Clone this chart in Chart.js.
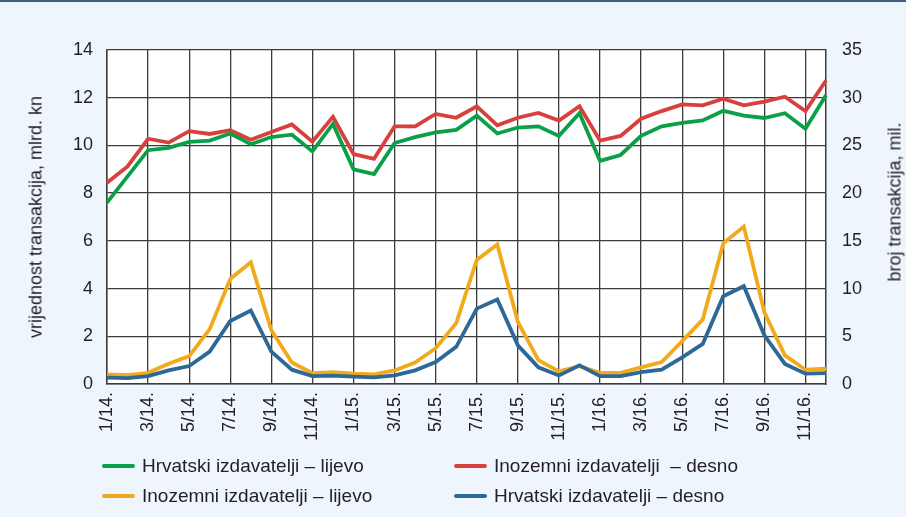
<!DOCTYPE html>
<html>
<head>
<meta charset="utf-8">
<script src="https://cdn.jsdelivr.net/npm/chart.js@4.4.0/dist/chart.umd.min.js"></script>
<style>
  html, body { margin: 0; padding: 0; }
  body { width: 906px; height: 517px; background: #eef5fc; position: relative; overflow: hidden;
         font-family: 'Liberation Sans Narrow', 'Liberation Sans', sans-serif; color: #231f20; }
  #topline { position: absolute; left: 0; top: 0; width: 906px; height: 2px; background: #3f5f86; }
  #wrap { position: absolute; left: 0; top: 0; width: 906px; height: 517px; }
  .axis-title { position: absolute; white-space: nowrap; font-size: 18px; transform: translate(-50%, -50%) rotate(-90deg); }
  #legend { position: absolute; left: 102px; top: 454px; display: grid; grid-template-columns: 352px 340px; row-gap: 6px; }
  .item { display: flex; align-items: center; font-size: 19px; height: 24px; }
  .swatch { width: 33px; height: 4px; border-radius: 2px; margin-right: 7px; }
</style>
</head>
<body>
<div id="topline"></div>
<div id="wrap"><canvas id="chart" width="906" height="517"></canvas></div>
<div class="axis-title" style="left:36px; top:217px;">vrijednost transakcija, mlrd. kn</div>
<div class="axis-title" style="left:895px; top:202px;">broj transakcija, mil.</div>
<div id="legend"></div>
<script>
// months 1/14. .. 12/16.
const months = [];
for (let y = 14; y <= 16; y++) {
    for (let m = 1; m <= 12; m++) months.push(m + '/' + y + '.');
}

// left axis, mlrd. kn
const hrLijevo = [7.6, 8.7, 9.8, 9.9, 10.15, 10.2, 10.5, 10.05, 10.35, 10.45, 9.75, 10.9,
                  9.0, 8.8, 10.1, 10.35, 10.55, 10.65, 11.25, 10.5, 10.75, 10.8, 10.4, 11.35,
                  9.35, 9.6, 10.4, 10.8, 10.95, 11.05, 11.45, 11.25, 11.15, 11.35, 10.7, 12.1];
const inoLijevo = [0.4, 0.37, 0.47, 0.85, 1.17, 2.3, 4.4, 5.1, 2.25, 0.9, 0.45, 0.5,
                   0.43, 0.4, 0.57, 0.9, 1.5, 2.55, 5.2, 5.85, 2.6, 1.0, 0.53, 0.75,
                   0.47, 0.47, 0.7, 0.92, 1.8, 2.7, 5.9, 6.6, 3.0, 1.2, 0.6, 0.64];
// right axis, mil.
const inoDesno = [21.1, 22.8, 25.7, 25.3, 26.5, 26.2, 26.6, 25.6, 26.4, 27.2, 25.4, 28.0,
                  24.1, 23.6, 27.0, 27.0, 28.3, 27.9, 29.1, 27.1, 27.9, 28.4, 27.6, 29.1,
                  25.5, 26.0, 27.8, 28.6, 29.3, 29.2, 29.9, 29.2, 29.6, 30.1, 28.6, 31.8];
const hrDesno = [0.66, 0.62, 0.83, 1.43, 1.88, 3.4, 6.6, 7.7, 3.4, 1.5, 0.83, 0.87,
                 0.77, 0.7, 0.9, 1.43, 2.3, 3.9, 7.9, 8.85, 4.05, 1.75, 0.9, 1.95,
                 0.83, 0.83, 1.25, 1.5, 2.8, 4.2, 9.2, 10.25, 5.1, 2.1, 1.08, 1.14];

const GRID = '#3c3c3c';

Chart.defaults.font.family = "'Liberation Sans Narrow', 'Liberation Sans', sans-serif";
Chart.defaults.color = '#231f20';

const whiteArea = {
    id: 'whiteArea',
    beforeDraw(chart) {
        const a = chart.chartArea;
        const c = chart.ctx;
        c.save();
        c.fillStyle = '#ffffff';
        c.fillRect(a.left, a.top, a.right - a.left, a.bottom - a.top);
        c.restore();
    }
};

function line(label, data, color, axis, order) {
    return {
        label: label, data: data, yAxisID: axis,
        borderColor: color, backgroundColor: color,
        borderWidth: 3.8, pointRadius: 0, tension: 0, order: order
    };
}

const datasets = [
    line('Hrvatski izdavatelji – lijevo', hrLijevo, '#0b9f48', 'y', 1),
    line('Inozemni izdavatelji  – desno', inoDesno, '#d8413b', 'y1', 1),
    line('Inozemni izdavatelji – lijevo', inoLijevo, '#f2aa1c', 'y', 1),
    line('Hrvatski izdavatelji – desno', hrDesno, '#2e6896', 'y1', 0)
];

new Chart(document.getElementById('chart'), {
    type: 'line',
    data: { labels: months, datasets: datasets },
    options: {
        responsive: false,
        animation: false,
        layout: { padding: { top: 50, left: 0, right: 0, bottom: 0 } },
        plugins: { legend: { display: false }, tooltip: { enabled: false } },
        scales: {
            x: {
                offset: false,
                afterFit(s) { s.height = 133; },
                grid: { color: GRID, lineWidth: 1.3, drawTicks: false },
                border: { color: GRID, width: 1.5 },
                ticks: {
                    autoSkip: false, maxRotation: 90, minRotation: 90, padding: 8,
                    font: { size: 18 },
                    callback(v, i) { return i % 2 === 0 ? months[i] : null; }
                }
            },
            y: {
                position: 'left', min: 0, max: 14,
                afterFit(s) { s.width = 107; },
                grid: { color: GRID, lineWidth: 1.3, drawTicks: false },
                border: { color: GRID, width: 1.5 },
                ticks: { stepSize: 2, padding: 14, font: { size: 18 } }
            },
            y1: {
                position: 'right', min: 0, max: 35,
                afterFit(s) { s.width = 80; },
                grid: { drawOnChartArea: false, drawTicks: false },
                border: { color: GRID, width: 1.5 },
                ticks: { stepSize: 5, padding: 16, font: { size: 18 } }
            }
        }
    },
    plugins: [whiteArea]
});

// legend
const legend = document.getElementById('legend');
datasets.forEach(function (ds) {
    const item = document.createElement('div');
    item.className = 'item';
    item.innerHTML = '<span class="swatch" style="background:' + ds.borderColor + '"></span>' +
                     '<span style="white-space:pre">' + ds.label + '</span>';
    legend.appendChild(item);
});
</script>
</body>
</html>
